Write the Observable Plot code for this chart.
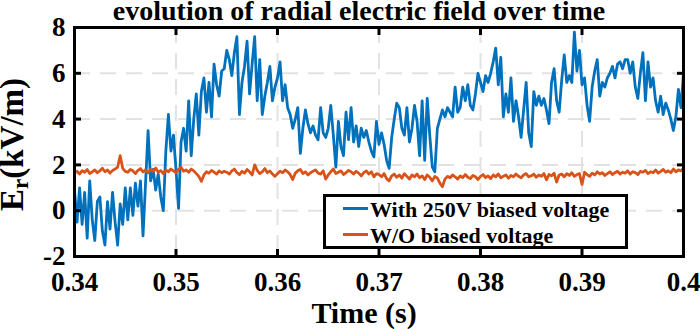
<!DOCTYPE html>
<html>
<head>
<meta charset="utf-8">
<script src="https://cdn.jsdelivr.net/npm/d3@7"></script>
<script src="https://cdn.jsdelivr.net/npm/@observablehq/plot@0.6"></script>
<style>
  html, body { margin: 0; padding: 0; background: #fff; }
  #wrap { position: relative; width: 700px; height: 329px; overflow: hidden;
          font-family: "Liberation Serif", "Times New Roman", serif; font-weight: bold; }
  #wrap svg text { font-family: "Liberation Serif", "Times New Roman", serif; }
  #legend { position: absolute; left: 323px; top: 194px; width: 305px; height: 55px;
            box-sizing: border-box; border: 3px solid #000; background: #fff; }
  .row { position: absolute; left: 44px; font-size: 22px; line-height: 26px; white-space: nowrap; color: #000; }
  .sw { position: absolute; left: 17px; width: 25px; height: 3px; }
</style>
</head>
<body>
<div id="wrap"></div>
<script>
// ---- data ----
const tStart = 0.34, tEnd = 0.40;
const xTicks = [0.34, 0.35, 0.36, 0.37, 0.38, 0.39, 0.40];
const xTickLabels = ["0.34", "0.35", "0.36", "0.37", "0.38", "0.39", "0.4"];
const yTicks = [-2, 0, 2, 4, 6, 8];
const yTickLabels = ["-2", "0", "2", "4", "6", "8"];
const seriesNames = ["With 250V biased voltage", "W/O biased voltage"];
const seriesColors = ["#0072BD", "#D95319"];

const withBias = [
  0.9,-0.5,1.0,-0.6,0.8,-1.2,1.3,-0.4,-1.3,0.4,
  0.6,-0.9,-1.5,0.4,-0.8,0.8,-0.5,-1.5,0.3,-0.6,
  1.0,-0.4,1.0,-0.2,1.2,0.2,1.3,-1.1,1.2,3.5,
  1.3,1.8,0.9,1.6,0.6,0.0,2.6,4.2,2.6,3.3,
  1.8,0.1,3.0,3.6,2.6,4.8,2.4,4.0,5.1,3.3,
  5.2,5.8,4.3,5.6,4.1,6.4,5.5,5.0,6.1,6.2,
  7.0,6.6,5.9,6.9,7.6,4.2,5.6,6.3,7.4,5.1,
  6.4,7.6,4.8,6.6,4.2,5.0,5.6,6.3,4.8,5.4,
  5.8,6.5,4.8,5.5,4.5,4.2,3.6,4.0,4.5,2.5,
  3.6,4.4,3.8,3.4,3.7,3.3,3.1,4.5,3.4,3.2,
  3.6,4.6,3.3,1.9,3.9,2.8,2.4,4.3,3.1,
  4.5,3.0,3.7,2.8,3.6,3.2,3.5,3.0,2.6,2.35,
  3.9,2.9,3.4,2.9,2.2,1.85,3.2,4.0,4.7,4.5,
  3.6,3.3,4.5,3.0,3.6,4.6,3.9,2.4,4.8,2.2,
  4.9,3.3,1.9,1.7,3.6,4.0,4.4,4.1,4.5,4.3,
  4.1,5.4,4.3,4.5,5.4,4.8,5.5,4.6,4.4,5.1,
  6.0,5.6,5.2,5.9,5.6,6.0,6.5,7.1,5.5,6.7,
  4.1,5.1,4.3,5.8,3.9,4.8,4.1,3.2,4.4,5.6,
  3.4,2.8,5.2,4.6,5.0,4.6,4.9,4.4,3.8,5.6,
  6.2,4.8,4.3,5.7,6.8,5.6,5.9,5.6,7.8,6.1,
  7.0,5.5,5.8,4.6,3.9,5.4,6.1,6.6,5.0,5.6,
  5.4,5.8,6.0,6.3,5.8,6.4,6.5,6.2,6.6,6.6,
  6.0,6.5,5.4,4.9,6.0,6.9,4.8,6.5,5.4,5.8,
  4.8,4.3,5.0,4.2,4.7,4.4,4.0,3.5,4.1,5.3,4.5,6.0
];

const withoutBias = [
  1.65,1.72,1.6,1.75,1.68,1.8,1.62,1.7,1.78,1.66,
  1.74,1.85,1.7,1.78,1.64,1.76,1.82,1.9,2.4,1.85,
  1.72,1.68,1.8,1.74,1.62,1.76,1.84,1.7,1.78,1.66,
  1.8,1.72,1.86,1.68,1.75,1.62,1.78,1.7,1.82,1.74,
  1.66,1.8,1.9,1.72,1.78,1.68,1.82,1.74,1.62,1.5,
  1.28,1.56,1.7,1.64,1.76,1.68,1.6,1.74,1.66,1.72,
  1.68,1.6,1.74,1.82,1.66,1.58,1.72,1.64,1.8,1.7,
  1.56,2.0,1.76,1.62,1.7,1.84,1.66,1.74,1.6,1.5,
  1.62,1.72,1.66,1.78,1.7,1.58,1.36,1.64,1.74,1.8,
  1.62,1.7,1.56,1.66,1.72,1.78,1.64,1.6,1.74,1.38,
  1.56,1.7,1.82,1.62,1.68,1.74,1.58,1.66,1.76,1.7,
  1.6,1.72,1.64,1.52,1.66,1.74,1.6,1.7,1.48,1.62,
  1.58,1.48,1.62,1.4,1.3,1.52,1.6,1.46,1.56,1.42,
  1.62,1.5,1.38,1.56,1.48,1.6,1.44,1.52,1.36,1.56,
  1.46,1.3,1.5,1.42,1.2,1.05,1.38,1.5,1.44,1.56,
  1.48,1.38,1.52,1.44,1.58,1.46,1.4,1.54,1.48,1.36,
  1.5,1.58,1.44,1.52,1.4,1.56,1.48,1.6,1.44,1.5,
  1.56,1.42,1.54,1.48,1.6,1.5,1.44,1.56,1.62,1.48,
  1.52,1.6,1.46,1.56,1.5,1.62,1.35,1.58,1.52,1.64,
  1.25,1.56,1.6,1.48,1.62,1.54,1.66,1.5,1.58,1.62,
  1.15,1.68,1.58,1.5,1.64,1.56,1.7,1.6,1.66,1.54,
  1.62,1.7,1.58,1.66,1.72,1.6,1.68,1.64,1.74,1.6,
  1.7,1.66,1.58,1.72,1.68,1.76,1.62,1.7,1.66,1.78,
  1.64,1.72,1.8,1.68,1.74,1.66,1.82,1.7,1.78,1.74,1.86
];

// sample times: uniform grid over the recorded window
function toRows(values) {
  const n = values.length;
  return values.map((v, i) => ({t: tStart + (tEnd - tStart) * i / (n - 1), v}));
}
const blueRows = toRows(withBias);
const orangeRows = toRows(withoutBias);

const font = "Liberation Serif, Times New Roman, serif";
const gridStyle = {stroke: "#e2e2e2", strokeOpacity: 1, strokeWidth: 2, strokeDasharray: "16,10"};
const fmtX = d => xTickLabels[xTicks.indexOf(d)];
const fmtY = d => yTickLabels[yTicks.indexOf(d)];
const blank = () => "";

const plot = Plot.plot({
  width: 700,
  height: 329,
  marginLeft: 74,
  marginRight: 17,
  marginTop: 27,
  marginBottom: 73,
  style: {fontFamily: font, fontWeight: "bold", background: "white", color: "black", overflow: "visible"},
  x: {domain: [tStart, tEnd]},
  y: {domain: [-2, 8]},
  marks: [
    Plot.gridX(xTicks.slice(1, -1), gridStyle),
    Plot.gridY(yTicks.slice(1, -1), gridStyle),
    Plot.line(blueRows, {x: "t", y: "v", stroke: seriesColors[0], strokeWidth: 2.8, strokeLinejoin: "round"}),
    Plot.line(orangeRows, {x: "t", y: "v", stroke: seriesColors[1], strokeWidth: 2.8, strokeLinejoin: "round"}),
    // inward ticks on all four sides
    Plot.axisX(xTicks.slice(1, -1), {anchor: "bottom", tickSize: -7, strokeWidth: 3, tickFormat: blank, label: null}),
    Plot.axisX(xTicks.slice(1, -1), {anchor: "top", tickSize: -7, strokeWidth: 3, tickFormat: blank, label: null}),
    Plot.axisY(yTicks.slice(1, -1), {anchor: "left", tickSize: -7, strokeWidth: 3, tickFormat: blank, label: null}),
    Plot.axisY(yTicks.slice(1, -1), {anchor: "right", tickSize: -7, strokeWidth: 3, tickFormat: blank, label: null}),
    // tick labels
    Plot.axisX(xTicks, {anchor: "bottom", tickSize: 0, tickPadding: 15, tickFormat: fmtX, fontSize: 27, fontWeight: "bold", fontFamily: font, fontVariant: "normal", label: null}),
    Plot.axisY(yTicks, {anchor: "left", tickSize: 0, tickPadding: 9, tickFormat: fmtY, fontSize: 27, fontWeight: "bold", fontFamily: font, fontVariant: "normal", label: null}),
    Plot.frame({stroke: "black", strokeWidth: 3}),
    // titles
    Plot.text(["evolution of radial electric field over time"], {frameAnchor: "top", lineAnchor: "middle", dx: -20, dy: -16, fontSize: 28, fontWeight: "bold", fontFamily: font}),
    Plot.text(["Time (s)"], {frameAnchor: "bottom", lineAnchor: "middle", dx: -15, dy: 56.5, fontSize: 30, fontWeight: "bold", fontFamily: font}),
    Plot.text(["E_r (kV/m)"], {frameAnchor: "left", lineAnchor: "middle", fontSize: 33, fontWeight: "bold", fontFamily: font})
  ]
});

// y label with subscript r (rotated); placed in absolute svg coordinates
d3.select(plot).selectAll("text").filter(function() { return this.textContent === "E_r (kV/m)"; })
  .each(function() {
    const t = d3.select(this);
    const g = d3.select(this.parentNode);
    g.attr("transform", null);
    t.text(null)
     .attr("x", null).attr("y", null).attr("dy", null)
     .attr("transform", "translate(23,144.5) rotate(-90)")
     .attr("text-anchor", "middle");
    t.append("tspan").text("E");
    t.append("tspan").attr("font-size", 23).attr("dy", "5").text("r");
    t.append("tspan").attr("dy", "-5").text("(kV/m)");
  });

const wrap = document.getElementById("wrap");
wrap.appendChild(plot);

// legend
const legend = document.createElement("div");
legend.id = "legend";
seriesNames.forEach((name, i) => {
  const sw = document.createElement("div");
  sw.className = "sw";
  sw.style.background = seriesColors[i];
  sw.style.top = (9.5 + 26 * i) + "px";
  legend.appendChild(sw);
  const row = document.createElement("div");
  row.className = "row";
  row.style.top = (26 * i) + "px";
  row.textContent = name;
  legend.appendChild(row);
});
wrap.appendChild(legend);
</script>
</body>
</html>
